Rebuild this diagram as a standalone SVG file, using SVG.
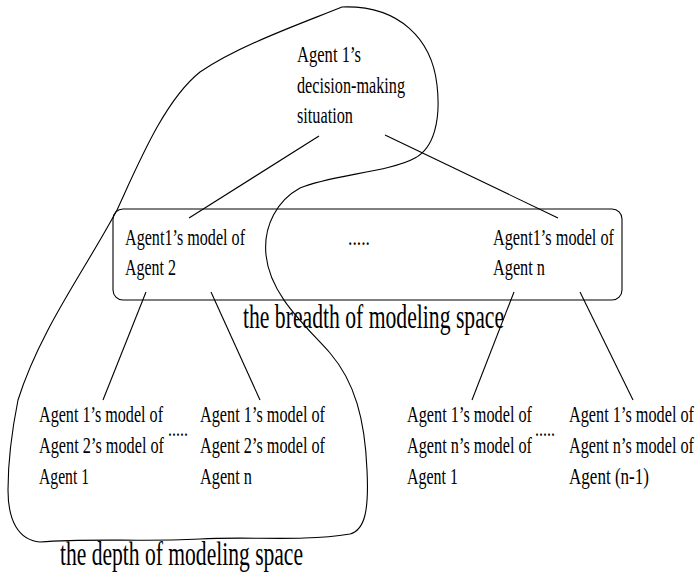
<svg xmlns="http://www.w3.org/2000/svg" width="698" height="582" viewBox="0 0 698 582">
<style>
text{font-family:"Liberation Serif","Times New Roman",serif;font-size:23px;fill:#000}
.big{font-size:33px}
.ln{stroke:#000;stroke-width:1.1;fill:none}
</style>
<rect width="698" height="582" fill="#fff"/>
<g id="depth-outline">
<path class="ln" d="M342,7 C400,5 432,40 437,85 C441,120 434,148 415,158 C390,172 330,175 300,188 C278,200 263,225 266,255 C270,295 305,325 330,353 C355,382 365,420 367,470 C369,510 365,530 350,534 C300,542 250,536 200,539 C140,542 90,538 40,542 C18,540 8,520 8,490 C8,460 12,430 18,400 C40,330 85,270 117,210 C140,160 165,100 200,72 C240,45 300,24 342,7 Z"/>
</g>
<g id="breadth-box">
<rect class="ln" x="113" y="209" width="509" height="91" rx="10"/>
</g>
<g id="connectors">
<line class="ln" x1="319" y1="136" x2="189" y2="218"/>
<line class="ln" x1="385" y1="135" x2="558" y2="218"/>
<line class="ln" x1="146" y1="292" x2="103" y2="400"/>
<line class="ln" x1="211" y1="292" x2="260" y2="400"/>
<line class="ln" x1="514" y1="292" x2="472" y2="400"/>
<line class="ln" x1="580" y1="292" x2="633" y2="400"/>
</g>
<g id="root">
<text x="297" y="62" textLength="64" lengthAdjust="spacingAndGlyphs">Agent 1’s</text>
<text x="297" y="93" textLength="108" lengthAdjust="spacingAndGlyphs">decision-making</text>
<text x="297" y="123" textLength="56" lengthAdjust="spacingAndGlyphs">situation</text>
</g>
<g id="model-agent2">
<text x="125" y="245" textLength="120" lengthAdjust="spacingAndGlyphs">Agent1’s model of</text>
<text x="125" y="275" textLength="51" lengthAdjust="spacingAndGlyphs">Agent 2</text>
</g>
<g id="breadth-dots">
<text x="348" y="245" textLength="22" lengthAdjust="spacingAndGlyphs">.....</text>
</g>
<g id="model-agentn">
<text x="493" y="245" textLength="121" lengthAdjust="spacingAndGlyphs">Agent1’s model of</text>
<text x="493" y="275" textLength="52" lengthAdjust="spacingAndGlyphs">Agent n</text>
</g>
<g id="breadth-label">
<text class="big" x="243" y="328" textLength="261" lengthAdjust="spacingAndGlyphs">the breadth of modeling space</text>
</g>
<g id="model-2-1">
<text x="39" y="422" textLength="124" lengthAdjust="spacingAndGlyphs">Agent 1’s model of</text>
<text x="39" y="453" textLength="125" lengthAdjust="spacingAndGlyphs">Agent 2’s model of</text>
<text x="39" y="484" textLength="50" lengthAdjust="spacingAndGlyphs">Agent 1</text>
</g>
<g id="dots-left">
<text x="168" y="436" textLength="20" lengthAdjust="spacingAndGlyphs">.....</text>
</g>
<g id="model-2-n">
<text x="200" y="422" textLength="125" lengthAdjust="spacingAndGlyphs">Agent 1’s model of</text>
<text x="200" y="453" textLength="125" lengthAdjust="spacingAndGlyphs">Agent 2’s model of</text>
<text x="200" y="484" textLength="52" lengthAdjust="spacingAndGlyphs">Agent n</text>
</g>
<g id="model-n-1">
<text x="407" y="422" textLength="125" lengthAdjust="spacingAndGlyphs">Agent 1’s model of</text>
<text x="407" y="453" textLength="125" lengthAdjust="spacingAndGlyphs">Agent n’s model of</text>
<text x="407" y="484" textLength="51" lengthAdjust="spacingAndGlyphs">Agent 1</text>
</g>
<g id="dots-right">
<text x="535" y="436" textLength="20" lengthAdjust="spacingAndGlyphs">.....</text>
</g>
<g id="model-n-n1">
<text x="569" y="422" textLength="125" lengthAdjust="spacingAndGlyphs">Agent 1’s model of</text>
<text x="569" y="453" textLength="125" lengthAdjust="spacingAndGlyphs">Agent n’s model of</text>
<text x="569" y="484" textLength="80" lengthAdjust="spacingAndGlyphs">Agent (n-1)</text>
</g>
<g id="depth-label">
<text class="big" x="60" y="565" textLength="243" lengthAdjust="spacingAndGlyphs">the depth of modeling space</text>
</g>
</svg>
